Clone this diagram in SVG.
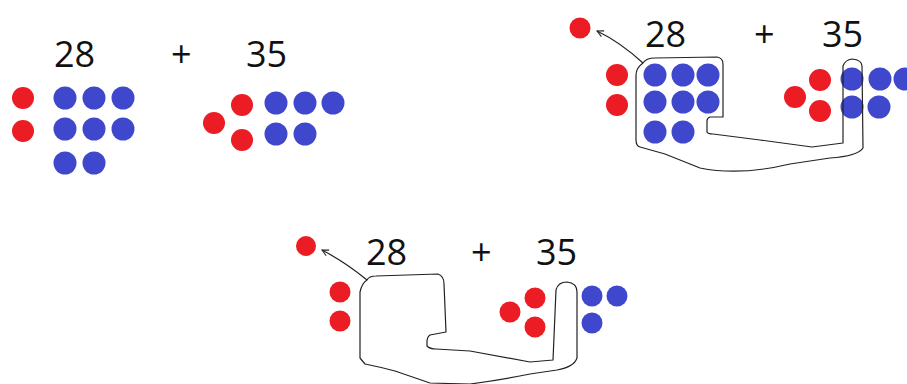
<svg xmlns="http://www.w3.org/2000/svg" width="907" height="384" viewBox="0 0 907 384">
<defs>
<style>
.r{fill:#ec1c24}
.b{fill:#3f48cc}
.t{font-family:"Open Sans","Liberation Sans",sans-serif;font-size:36px;fill:#111}
.loop{fill:none;stroke:#222;stroke-width:1.2;stroke-linejoin:round}
</style>
<marker id="ah" viewBox="0 0 10 10" refX="9" refY="5" markerWidth="8" markerHeight="8" orient="auto" markerUnits="userSpaceOnUse">
<path d="M1,1 L9,5 L1,9" fill="none" stroke="#222" stroke-width="1.3"/>
</marker>
</defs>
<rect width="907" height="384" fill="#fff"/>
<g id="panel1">
<text class="t" x="54" y="67">28</text>
<text class="t" x="171" y="67">+</text>
<text class="t" x="246" y="67">35</text>
<circle class="r" cx="23" cy="98" r="11"/>
<circle class="r" cx="23" cy="131" r="11"/>
<circle class="b" cx="65" cy="98" r="11.5"/>
<circle class="b" cx="94" cy="98" r="11.5"/>
<circle class="b" cx="123" cy="98" r="11.5"/>
<circle class="b" cx="65" cy="129" r="11.5"/>
<circle class="b" cx="94" cy="129" r="11.5"/>
<circle class="b" cx="123" cy="129" r="11.5"/>
<circle class="b" cx="65" cy="163" r="11.5"/>
<circle class="b" cx="94" cy="163" r="11.5"/>
<circle class="r" cx="242" cy="105" r="11"/>
<circle class="r" cx="214" cy="123" r="11"/>
<circle class="r" cx="242" cy="140" r="11"/>
<circle class="b" cx="276" cy="103" r="11.5"/>
<circle class="b" cx="305" cy="103" r="11.5"/>
<circle class="b" cx="333" cy="103" r="11.5"/>
<circle class="b" cx="276" cy="134" r="11.5"/>
<circle class="b" cx="305" cy="134" r="11.5"/>
</g>
<g id="panel2">
<text class="t" x="645" y="47">28</text>
<text class="t" x="754" y="47">+</text>
<text class="t" x="822" y="47">35</text>
<circle class="r" cx="580" cy="28" r="10.5"/>
<circle class="r" cx="617" cy="75" r="11"/>
<circle class="r" cx="617" cy="105" r="11"/>
<circle class="b" cx="655" cy="75" r="11.5"/>
<circle class="b" cx="683" cy="75" r="11.5"/>
<circle class="b" cx="708" cy="75" r="11.5"/>
<circle class="b" cx="655" cy="102" r="11.5"/>
<circle class="b" cx="683" cy="102" r="11.5"/>
<circle class="b" cx="708" cy="102" r="11.5"/>
<circle class="b" cx="655" cy="132" r="11.5"/>
<circle class="b" cx="683" cy="132" r="11.5"/>
<circle class="r" cx="820" cy="80" r="11"/>
<circle class="r" cx="795" cy="97" r="11"/>
<circle class="r" cx="820" cy="111" r="11"/>
<circle class="b" cx="852" cy="79" r="11.5"/>
<circle class="b" cx="880" cy="79" r="11.5"/>
<circle class="b" cx="905" cy="79" r="11.5"/>
<circle class="b" cx="852" cy="107" r="11.5"/>
<circle class="b" cx="879" cy="107" r="11.5"/>
</g>
<g id="panel3">
<text class="t" x="366" y="265">28</text>
<text class="t" x="471" y="265">+</text>
<text class="t" x="536" y="265">35</text>
<circle class="r" cx="306" cy="246" r="10"/>
<circle class="r" cx="340" cy="292" r="10.5"/>
<circle class="r" cx="340" cy="321" r="10.5"/>
<circle class="r" cx="535" cy="298" r="10.5"/>
<circle class="r" cx="510" cy="312" r="10.5"/>
<circle class="r" cx="535" cy="327" r="10.5"/>
<circle class="b" cx="592" cy="296" r="10.5"/>
<circle class="b" cx="617" cy="296" r="10.5"/>
<circle class="b" cx="592" cy="323" r="10.5"/>
</g>
<g id="connectors">
<path class="loop" d="M643,63 Q620,42 597,31" marker-end="url(#ah)"/>
<path class="loop" d="M643,63 Q646,58 655,58 L717,57 Q723,58 723,64 L723,117 L710,117 Q707,118 707,121 L707,132 Q708,134 713,134 L760,140 L812,147 L843,143 L843,66 Q845,60 852,59 Q862,60 862,66 L863,148 Q858,156 830,158 L790,164 Q740,176 700,168 L665,154 L640,147 Q636,146 636,140 L636,75 Q636,68 643,63 Z"/>
<path class="loop" d="M367,280 Q345,262 322,250" marker-end="url(#ah)"/>
<path class="loop" d="M367,280 Q369,276 376,276 L438,274 Q444,276 444,284 L446,332 L430,335 Q427,337 427,342 L427,346 Q430,349 436,349 L470,351 L530,362 L553,360 L556,290 Q558,282 567,282 Q577,283 577,292 L577,358 Q574,367 557,370 L530,374 Q500,380 470,384 L430,383 L395,371 Q380,367 365,364 L360,358 L360,292 Q362,283 367,280 Z"/>
</g>
</svg>
